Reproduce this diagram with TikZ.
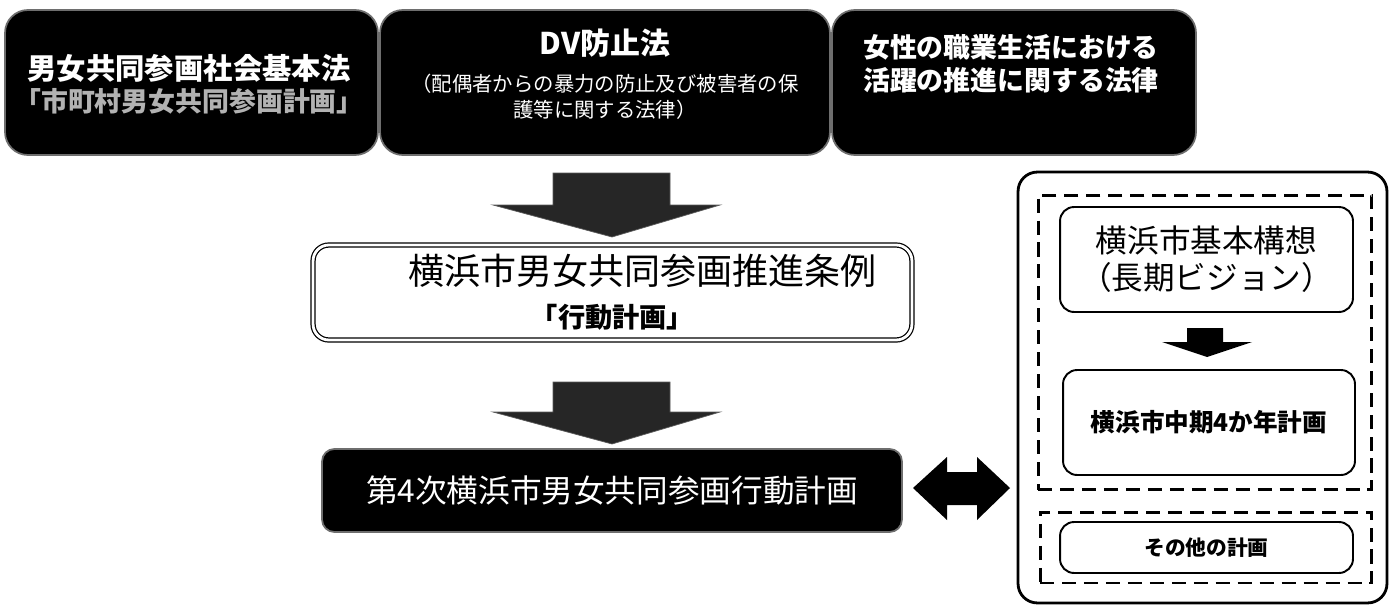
\documentclass[tikz,border=0pt]{standalone}
\usepackage{fontspec}
\setmainfont{Noto Sans CJK JP}
\usepackage{xcolor}
\definecolor{lawgray}{RGB}{110,110,110}
\usepackage{tikz}

\tikzset{
  lawbox/.style={draw=lawgray, line width=1pt, fill=black,
    rounded corners=13pt, minimum height=2.9cm, inner sep=0pt},
  lawtxt/.style={text=white, align=center, inner sep=0pt},
  planbox/.style={draw=black, line width=1.1pt, fill=white,
    rounded corners=8pt, inner sep=0pt, align=center},
  dashbox/.style={draw=black, line width=1.7pt,
    dash pattern=on 8pt off 4.5pt, inner sep=0pt},
  blockarrow/.style={fill=black!85, draw=black!65, line width=0.4pt}
}

\begin{document}
\begin{tikzpicture}[x=0.02cm, y=-0.02cm]
    \useasboundingbox (0,0) rectangle (1389,605);

    % three laws on top
    \node[lawbox, minimum width=7.46cm] (law1) at (191.5,82.5) {};
    \node[lawbox, minimum width=9cm] (law2) at (605,82.5) {};
    \node[lawbox, minimum width=7.28cm] (law3) at (1014,82.5) {};

    \node[lawtxt, font=\fontsize{16.7}{18}\selectfont\bfseries] (law1txt) at (189,84) {%
      男女共同参画社会基本法\\
      {\color{white!70!black}\fontsize{15.3}{15.3}\selectfont 「市町村男女共同参画計画」}%
    };
    \node[lawtxt, font=\fontsize{11.6}{14.7}\selectfont] (law2txt) at (605,74) {%
      {\fontsize{17}{17}\selectfont\bfseries DV防止法}\\[6.3pt]
      （配偶者からの暴力の防止及び被害者の保\\
      護等に関する法律）%
    };
    \node[lawtxt, font=\fontsize{15.3}{18.7}\selectfont\bfseries] (law3txt) at (1011,63.5) {%
      女性の職業生活における\\
      活躍の推進に関する法律%
    };

    % arrow down to the ordinance
    \fill[blockarrow] (553,173) -- (670,173) -- (670,205) -- (720,205)
      -- (612,237) -- (493,205) -- (553,205) -- cycle;

    \node[planbox, double, double distance=1.6pt, line width=0.7pt,
      rounded corners=9pt, minimum width=11.98cm, minimum height=1.9cm,
      font=\fontsize{20.5}{24.4}\selectfont] (jorei) at (612.5,292.5) {%
      \hspace*{1.2cm}横浜市男女共同参画推進条例\\
      {\bfseries\fontsize{15.5}{15.5}\selectfont 「行動計画」}%
    };

    \fill[blockarrow] (553,382) -- (670,382) -- (670,412) -- (720,412)
      -- (612,444) -- (493,412) -- (553,412) -- cycle;

    \node[draw=lawgray, line width=1pt, fill=black, rounded corners=7pt,
      minimum width=11.6cm, minimum height=1.66cm, inner sep=0pt,
      text=white, font=\fontsize{18}{18}\selectfont] (plan4) at (612,490.5)
      {第4次横浜市男女共同参画行動計画};

    % two-headed arrow
    \fill[black] (913,488) -- (947,457) -- (947,472) -- (977,472) -- (977,457)
      -- (1010,488) -- (977,520) -- (977,505) -- (947,505) -- (947,520) -- cycle;

    % city plans on the right
    \node[draw=black, line width=1.6pt, fill=white, rounded corners=11pt,
      minimum width=7.38cm, minimum height=8.62cm] (cityplans) at (1202.5,387.5) {};
    \node[dashbox, minimum width=6.68cm, minimum height=5.9cm] (longterm) at (1205,342.5) {};
    \node[dashbox, minimum width=6.64cm, minimum height=1.42cm] (others) at (1206,547.5) {};

    \node[planbox, minimum width=5.86cm, minimum height=2.1cm,
      font=\fontsize{18}{21}\selectfont] (vision) at (1206.5,259.5)
      {横浜市基本構想\\（長期ビジョン）};
    \fill[black] (1187,328) -- (1223,328) -- (1223,342) -- (1252,342)
      -- (1207,357) -- (1162,342) -- (1187,342) -- cycle;
    \node[planbox, minimum width=5.84cm, minimum height=2.1cm,
      font=\fontsize{14}{14}\selectfont\bfseries] (midterm) at (1209,422.5)
      {横浜市中期4か年計画};
    \node[planbox, minimum width=5.86cm, minimum height=1.02cm,
      font=\fontsize{11.8}{11.8}\selectfont\bfseries] (otherplan) at (1206.5,547.5)
      {その他の計画};
\end{tikzpicture}
\end{document}
